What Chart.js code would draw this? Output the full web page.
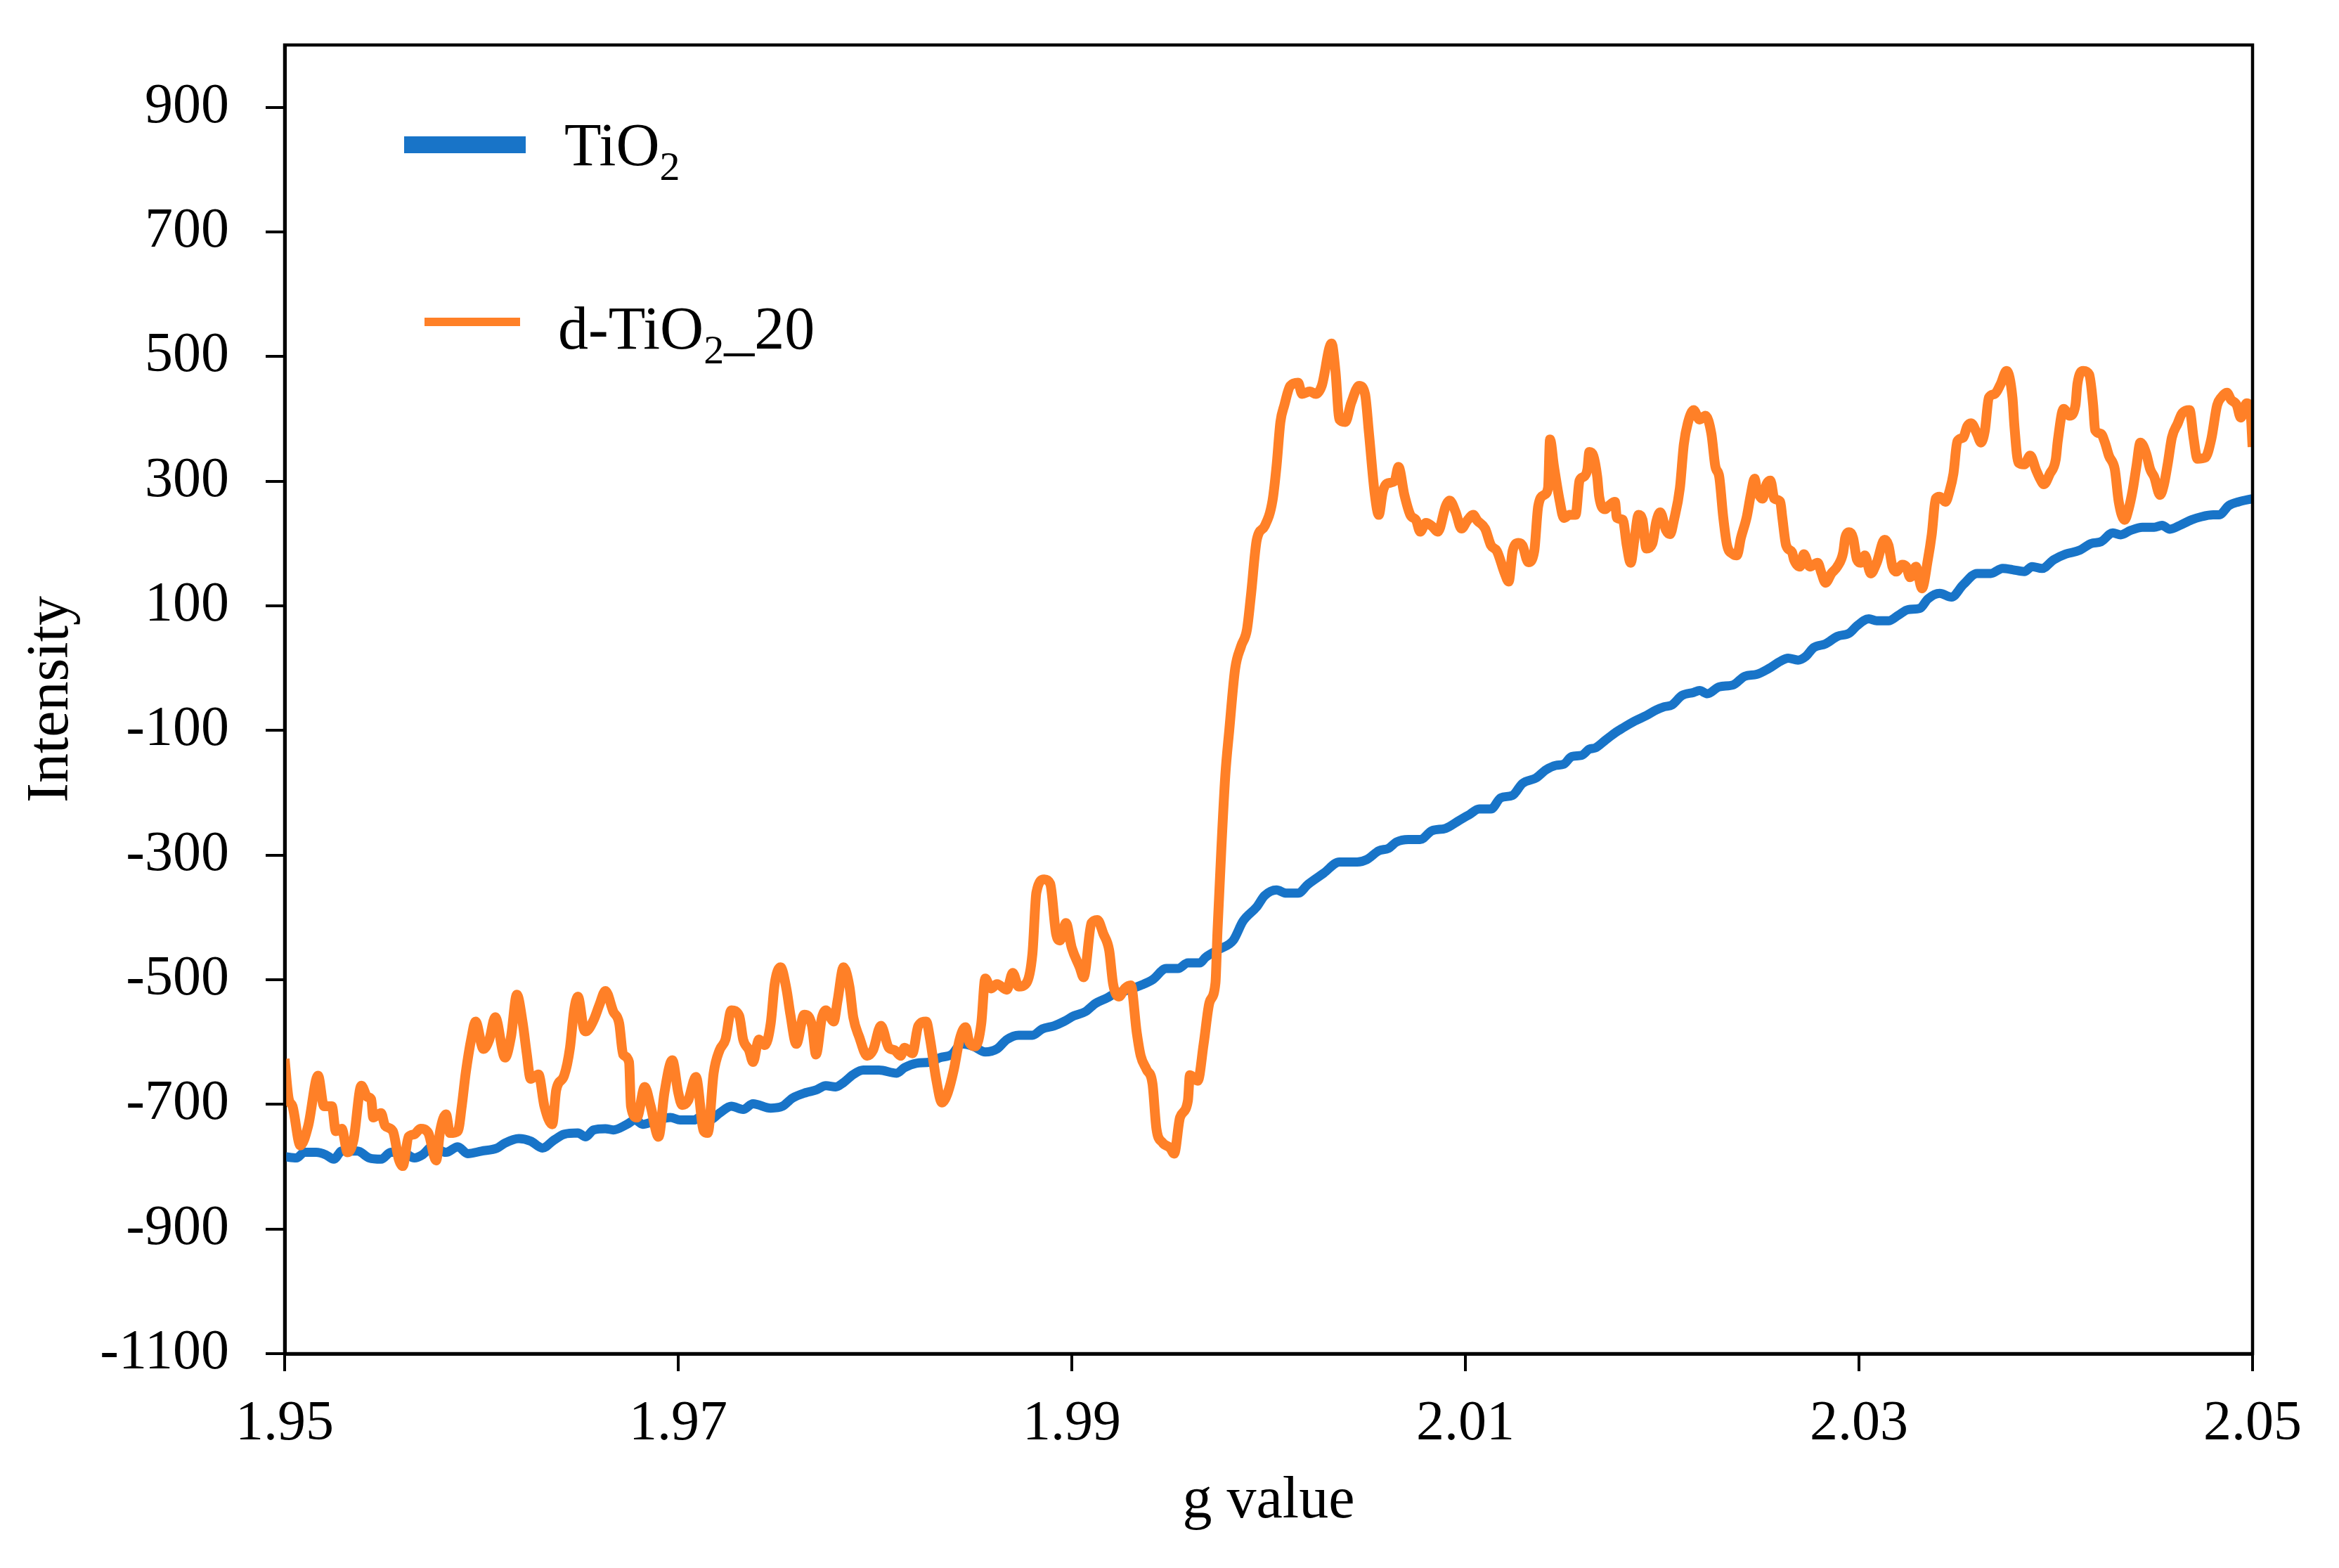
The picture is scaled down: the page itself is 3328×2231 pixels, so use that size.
<!DOCTYPE html>
<html>
<head>
<meta charset="utf-8">
<script src="https://cdn.jsdelivr.net/npm/chart.js@4.4.1/dist/chart.umd.min.js"></script>
<style>
  html, body { margin: 0; padding: 0; background: #ffffff; }
  #wrap { width: 3328px; height: 2231px; }
</style>
</head>
<body>
<div id="wrap"><canvas id="eprChart" width="3328" height="2231"></canvas></div>
<script>
// tick labels
const xTicks = [1.95, 1.97, 1.99, 2.01, 2.03, 2.05];
const yTicks = [-1100, -900, -700, -500, -300, -100, 100, 300, 500, 700, 900];

// TiO2 (blue)
const tio2G = [
  1.9500,1.9506,1.9510,1.9516,1.9521,1.9525,1.9529,1.9537,1.9543,1.9549,
  1.9554,1.9560,1.9566,1.9570,1.9575,1.9582,1.9588,1.9593,1.9600,1.9608,
  1.9612,1.9619,1.9625,1.9631,1.9637,1.9642,1.9649,1.9653,1.9657,1.9663,
  1.9667,1.9674,1.9678,1.9682,1.9687,1.9696,1.9701,1.9708,1.9712,1.9716,
  1.9721,1.9727,1.9733,1.9738,1.9747,1.9753,1.9758,1.9765,1.9770,1.9775,
  1.9780,1.9784,1.9789,1.9794,1.9802,1.9811,1.9815,1.9821,1.9828,1.9833,
  1.9839,1.9844,1.9850,1.9856,1.9862,1.9867,1.9873,1.9880,1.9885,1.9891,
  1.9896,1.9901,1.9907,1.9912,1.9918,1.9922,1.9927,1.9935,1.9941,1.9948,
  1.9954,1.9959,1.9965,1.9968,1.9975,1.9982,1.9987,1.9994,1.9998,2.0004,
  2.0009,2.0015,2.0020,2.0028,2.0036,2.0045,2.0050,2.0056,2.0061,2.0065,
  2.0071,2.0077,2.0083,2.0090,2.0097,2.0102,2.0107,2.0113,2.0118,2.0124,
  2.0129,2.0136,2.0141,2.0146,2.0150,2.0154,2.0159,2.0163,2.0166,2.0171,
  2.0176,2.0180,2.0186,2.0192,2.0197,2.0201,2.0205,2.0210,2.0216,2.0219,
  2.0223,2.0229,2.0236,2.0242,2.0248,2.0254,2.0260,2.0264,2.0269,2.0273,
  2.0277,2.0283,2.0289,2.0295,2.0299,2.0305,2.0309,2.0315,2.0320,2.0325,
  2.0331,2.0335,2.0341,2.0347,2.0353,2.0360,2.0367,2.0373,2.0378,2.0384,
  2.0388,2.0393,2.0399,2.0405,2.0412,2.0418,2.0423,2.0429,2.0433,2.0438,
  2.0444,2.0450,2.0454,2.0458,2.0463,2.0469,2.0474,2.0480,2.0483,2.0488,
  2.0493,2.0500
];
const tio2I = [
  -784,-786,-777,-777,-781,-788,-775,-775,-786,-788,
  -777,-777,-786,-781,-768,-777,-768,-779,-775,-770,
  -762,-755,-759,-770,-757,-748,-746,-752,-741,-739,
  -741,-732,-725,-732,-728,-721,-725,-725,-719,-725,
  -714,-703,-708,-699,-706,-703,-690,-681,-677,-670,
  -672,-665,-652,-645,-645,-650,-641,-634,-632,-625,
  -620,-603,-607,-616,-611,-596,-589,-589,-579,-574,
  -567,-558,-551,-538,-529,-522,-518,-509,-500,-482,
  -482,-473,-473,-464,-451,-437,-406,-383,-365,-356,
  -361,-361,-347,-329,-311,-311,-307,-293,-289,-279,
  -275,-275,-261,-257,-244,-235,-226,-226,-208,-204,
  -185,-176,-163,-156,-154,-142,-140,-130,-128,-116,
  -104,-96,-85,-76,-67,-62,-59,-44,-39,-36,
  -41,-30,-27,-13,-10,-1,11,16,13,19,
  33,39,51,56,68,79,76,76,85,94,
  96,111,120,114,134,152,152,160,158,155,
  163,160,174,183,189,200,203,217,214,221,
  226,226,229,223,229,238,243,246,246,261,
  267,272
];

// d-TiO2_20 (orange)
const dTio2G = [
  1.9500,1.9502,1.9504,1.9508,1.9512,1.9517,1.9520,1.9524,1.9526,1.9529,
  1.9532,1.9535,1.9539,1.9542,1.9544,1.9545,1.9549,1.9551,1.9555,1.9558,
  1.9560,1.9563,1.9566,1.9569,1.9573,1.9577,1.9579,1.9582,1.9584,1.9588,
  1.9590,1.9592,1.9595,1.9597,1.9601,1.9604,1.9607,1.9612,1.9615,1.9618,
  1.9621,1.9623,1.9625,1.9629,1.9632,1.9636,1.9638,1.9642,1.9645,1.9647,
  1.9649,1.9652,1.9653,1.9657,1.9660,1.9663,1.9667,1.9670,1.9672,1.9675,
  1.9676,1.9679,1.9683,1.9686,1.9690,1.9693,1.9697,1.9700,1.9702,1.9705,
  1.9709,1.9713,1.9715,1.9718,1.9721,1.9724,1.9727,1.9731,1.9733,1.9736,
  1.9738,1.9741,1.9744,1.9747,1.9749,1.9752,1.9755,1.9757,1.9760,1.9764,
  1.9768,1.9770,1.9773,1.9775,1.9779,1.9781,1.9784,1.9787,1.9789,1.9792,
  1.9796,1.9799,1.9803,1.9807,1.9810,1.9813,1.9815,1.9819,1.9822,1.9826,
  1.9828,1.9831,1.9834,1.9837,1.9840,1.9843,1.9846,1.9848,1.9851,1.9854,
  1.9856,1.9859,1.9862,1.9867,1.9870,1.9873,1.9877,1.9880,1.9882,1.9886,
  1.9889,1.9892,1.9894,1.9897,1.9900,1.9904,1.9906,1.9910,1.9913,1.9916,
  1.9919,1.9921,1.9924,1.9927,1.9930,1.9933,1.9935,1.9938,1.9941,1.9943,
  1.9946,1.9950,1.9952,1.9955,1.9959,1.9960,1.9964,1.9967,1.9970,1.9973,
  1.9974,1.9976,1.9978,1.9980,1.9983,1.9986,1.9989,1.9991,1.9994,1.9998,
  2.0002,2.0004,2.0006,2.0008,2.0011,2.0015,2.0017,2.0021,2.0024,2.0027,
  2.0032,2.0034,2.0036,2.0039,2.0042,2.0046,2.0049,2.0051,2.0054,2.0056,
  2.0058,2.0060,2.0064,2.0066,2.0069,2.0072,2.0075,2.0077,2.0080,2.0083,
  2.0086,2.0090,2.0092,2.0095,2.0098,2.0101,2.0104,2.0106,2.0110,2.0113,
  2.0116,2.0120,2.0122,2.0124,2.0127,2.0129,2.0132,2.0135,2.0137,2.0140,
  2.0142,2.0143,2.0145,2.0148,2.0150,2.0153,2.0156,2.0158,2.0160,2.0162,
  2.0163,2.0165,2.0167,2.0168,2.0171,2.0173,2.0176,2.0177,2.0180,2.0182,
  2.0184,2.0186,2.0188,2.0190,2.0192,2.0195,2.0197,2.0199,2.0202,2.0204,
  2.0206,2.0209,2.0211,2.0213,2.0216,2.0219,2.0222,2.0225,2.0227,2.0229,
  2.0231,2.0233,2.0236,2.0238,2.0240,2.0243,2.0245,2.0247,2.0248,2.0251,
  2.0253,2.0255,2.0257,2.0260,2.0261,2.0263,2.0266,2.0267,2.0270,2.0272,
  2.0275,2.0279,2.0281,2.0283,2.0286,2.0289,2.0292,2.0293,2.0295,2.0297,
  2.0299,2.0301,2.0303,2.0306,2.0309,2.0313,2.0315,2.0317,2.0319,2.0322,
  2.0324,2.0326,2.0329,2.0330,2.0332,2.0335,2.0337,2.0339,2.0341,2.0344,
  2.0346,2.0348,2.0350,2.0353,2.0355,2.0357,2.0360,2.0362,2.0364,2.0366,
  2.0369,2.0372,2.0375,2.0378,2.0379,2.0381,2.0384,2.0387,2.0390,2.0392,
  2.0394,2.0397,2.0400,2.0401,2.0404,2.0407,2.0410,2.0411,2.0414,2.0417,
  2.0419,2.0420,2.0423,2.0425,2.0427,2.0430,2.0432,2.0435,2.0437,2.0439,
  2.0441,2.0443,2.0446,2.0448,2.0450,2.0453,2.0455,2.0457,2.0459,2.0462,
  2.0464,2.0468,2.0470,2.0472,2.0476,2.0479,2.0482,2.0484,2.0487,2.0489,
  2.0492,2.0494,2.0497,2.0499,2.0500
];
const dTio2I = [
  -627,-690,-703,-766,-734,-654,-703,-703,-743,-739,
  -777,-757,-670,-688,-692,-721,-714,-734,-743,-788,
  -799,-752,-748,-739,-746,-790,-743,-716,-746,-743,
  -703,-650,-592,-567,-611,-596,-560,-625,-592,-524,
  -570,-618,-659,-652,-703,-732,-677,-654,-609,-551,
  -527,-579,-583,-565,-540,-518,-551,-570,-620,-632,
  -703,-721,-672,-703,-752,-681,-629,-681,-701,-694,
  -656,-743,-746,-650,-613,-596,-549,-558,-596,-613,
  -632,-596,-605,-570,-507,-480,-515,-556,-603,-556,
  -574,-620,-561,-549,-567,-533,-480,-511,-561,-592,
  -622,-613,-574,-609,-613,-622,-609,-618,-574,-567,
  -596,-658,-697,-681,-645,-596,-576,-601,-607,-570,
  -498,-514,-507,-516,-489,-511,-505,-458,-360,-339,
  -346,-426,-437,-409,-449,-480,-496,-409,-404,-426,
  -453,-507,-527,-514,-509,-585,-622,-644,-667,-739,
  -761,-770,-779,-721,-694,-653,-662,-603,-536,-505,
  -424,-289,-172,-100,-1,35,62,116,206,228,
  269,323,395,422,453,458,440,444,440,453,
  521,476,399,395,426,453,440,377,278,246,
  283,296,300,323,278,246,237,219,233,228,
  219,260,269,251,224,237,246,237,224,197,
  188,152,139,188,201,197,170,188,260,278,
  289,367,324,267,241,246,246,301,307,319,
  347,341,307,275,255,261,267,241,238,197,
  169,209,246,238,192,200,235,250,221,215,
  238,289,359,393,414,399,405,376,324,307,
  243,197,183,181,209,243,278,304,289,272,
  295,301,272,267,243,197,186,174,163,183,
  163,169,152,137,152,163,186,209,218,209,
  174,169,181,152,169,206,197,163,155,166,
  163,146,163,152,128,174,215,272,275,267,
  284,312,364,370,388,393,376,362,382,434,
  440,456,477,434,388,330,327,341,318,304,
  295,312,335,364,416,405,422,456,477,471,
  422,382,376,362,341,319,267,238,255,284,
  324,362,344,319,307,278,295,330,370,393,
  408,414,370,336,338,367,422,434,442,431,
  422,402,425,410,355
];

const BLUE = "#1874c8";
const ORANGE = "#ff8027";
const serif = "'Liberation Serif', 'Times New Roman', serif";

function toPoints(xs, ys) {
  const n = Math.min(xs.length, ys.length);
  const pts = [];
  for (let i = 0; i < n; i++) pts.push({ x: xs[i], y: ys[i] });
  return pts;
}

// text with subscript parts (chemical formulas)
function drawRichText(ctx, x, y, parts) {
  for (const [text, sub] of parts) {
    ctx.font = (sub ? 58 : 86) + "px " + serif;
    ctx.fillText(text, x, sub ? y + 21 : y);
    x += ctx.measureText(text).width;
  }
}

const frameAndLegend = {
  id: "frameAndLegend",
  afterDatasetsDraw(chart) {
    const { ctx, chartArea: a } = chart;
    ctx.save();
    ctx.strokeStyle = "#000";
    ctx.lineWidth = 4.5;
    ctx.strokeRect(a.left, a.top, a.right - a.left, a.bottom - a.top);
    ctx.restore();
  },
  afterDraw(chart) {
    const { ctx } = chart;
    ctx.save();
    ctx.lineCap = "butt";

    ctx.strokeStyle = BLUE;
    ctx.lineWidth = 24;
    ctx.beginPath();
    ctx.moveTo(575, 206);
    ctx.lineTo(748, 206);
    ctx.stroke();

    ctx.strokeStyle = ORANGE;
    ctx.lineWidth = 12;
    ctx.beginPath();
    ctx.moveTo(604, 458);
    ctx.lineTo(740, 458);
    ctx.stroke();

    ctx.fillStyle = "#000";
    ctx.textBaseline = "alphabetic";
    ctx.textAlign = "left";
    drawRichText(ctx, 803, 235, [["TiO", false], ["2", true]]);
    drawRichText(ctx, 794, 496, [["d-TiO", false], ["2", true], ["_20", false]]);
    ctx.restore();
  }
};

new Chart(document.getElementById("eprChart"), {
  type: "line",
  data: {
    datasets: [
      {
        label: "d-TiO2_20",
        data: toPoints(dTio2G, dTio2I),
        borderColor: ORANGE,
        borderWidth: 14,
        pointRadius: 0,
        cubicInterpolationMode: "monotone",
        order: 0,
      },
      {
        label: "TiO2",
        data: toPoints(tio2G, tio2I),
        borderColor: BLUE,
        borderWidth: 13,
        pointRadius: 0,
        cubicInterpolationMode: "monotone",
        order: 1,
      },
    ],
  },
  options: {
    responsive: false,
    devicePixelRatio: 1,
    animation: false,
    layout: { padding: { top: 64, right: 123, left: 0, bottom: 0 } },
    plugins: {
      legend: { display: false },
      tooltip: { enabled: false },
    },
    scales: {
      x: {
        type: "linear",
        min: 1.95,
        max: 2.05,
        afterBuildTicks: (scale) => {
          scale.ticks = xTicks.map(v => ({ value: v }));
        },
        afterFit: (scale) => {
          scale.height = 305;
        },
        ticks: {
          callback: (v) => Number(v).toFixed(2),
          font: { family: serif, size: 80 },
          color: "#000",
          padding: 28,
          maxRotation: 0,
          autoSkip: false,
        },
        grid: { drawOnChartArea: false, tickLength: 25, lineWidth: 4, color: "#000" },
        border: { display: true, color: "#000", width: 5 },
        title: {
          display: true,
          text: "g value",
          font: { family: serif, size: 84 },
          color: "#000",
          padding: { top: 0, bottom: 44 },
        },
      },
      y: {
        type: "linear",
        min: -1100,
        max: 1000,
        afterBuildTicks: (scale) => {
          scale.ticks = yTicks.map(v => ({ value: v }));
        },
        afterFit: (scale) => {
          scale.width = 405;
          scale.paddingTop = 0;
          scale.paddingBottom = 0;
        },
        ticks: {
          callback: (v) => String(v),
          font: { family: serif, size: 80 },
          color: "#000",
          padding: 52,
        },
        grid: { drawOnChartArea: false, tickLength: 27, lineWidth: 4, color: "#000" },
        border: { display: true, color: "#000", width: 5 },
        title: {
          display: true,
          text: "Intensity",
          font: { family: serif, size: 84 },
          color: "#000",
          padding: { top: 24, bottom: 0 },
        },
      },
    },
  },
  plugins: [frameAndLegend],
});
</script>
</body>
</html>
